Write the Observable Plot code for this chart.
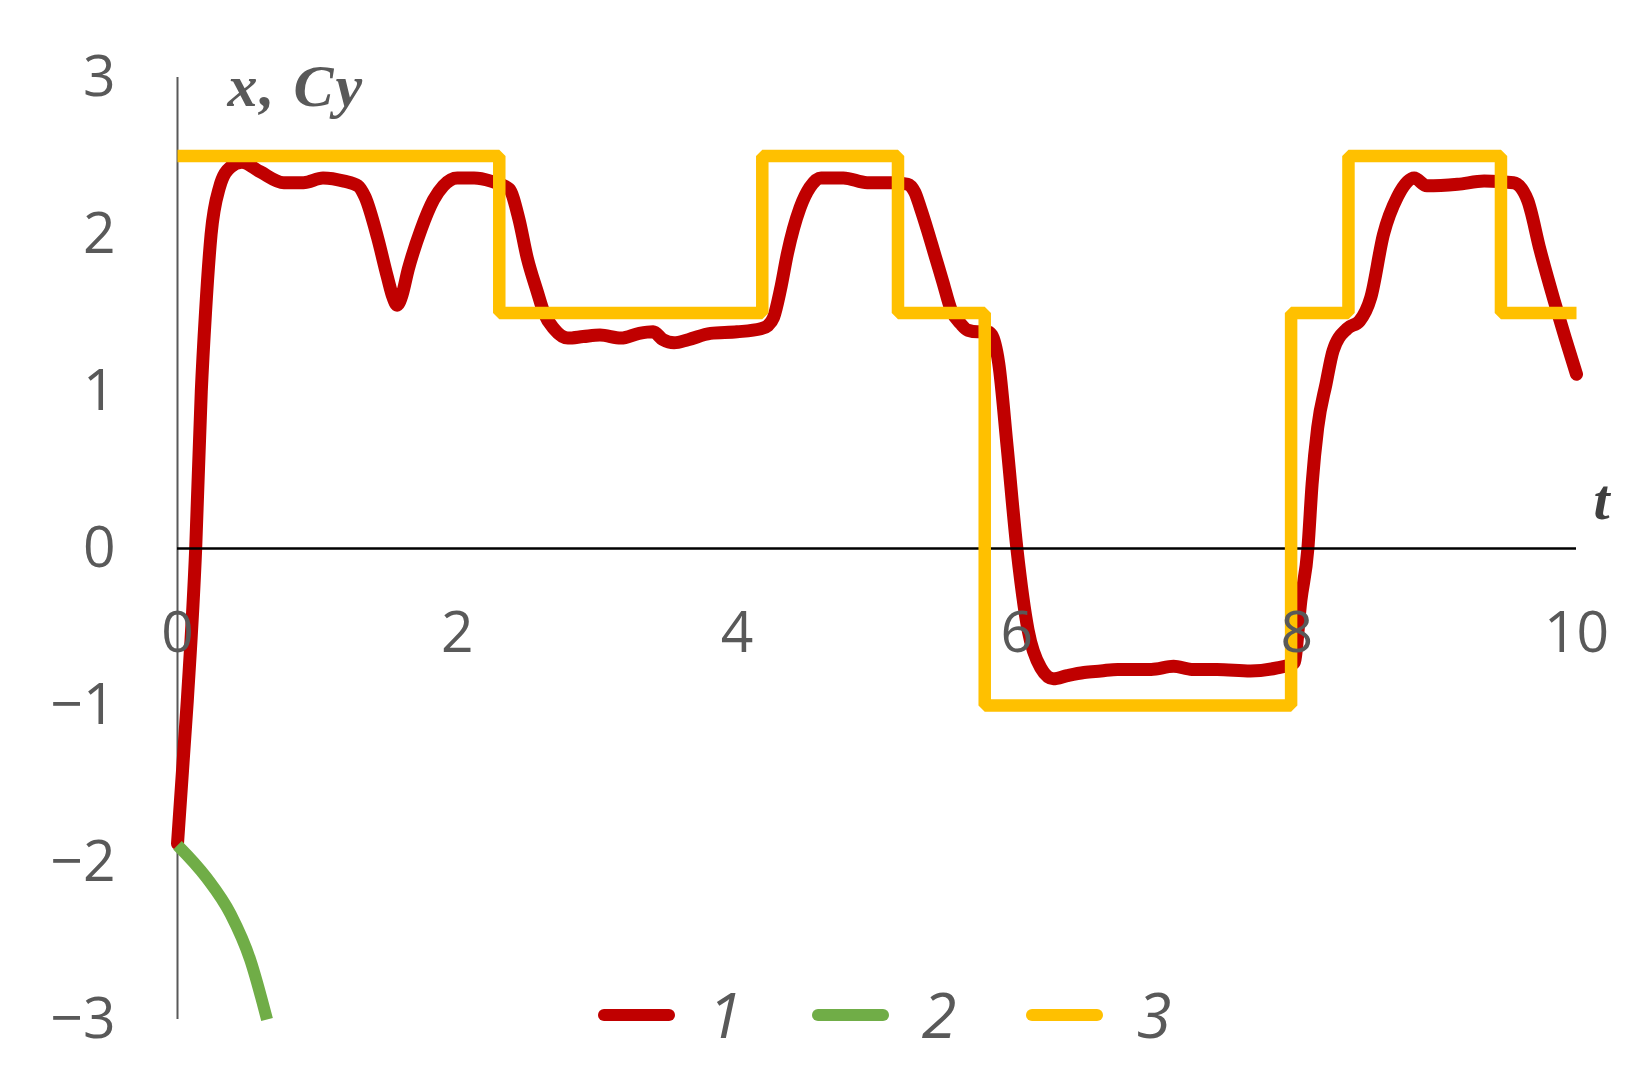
<!DOCTYPE html>
<html>
<head>
<meta charset="utf-8">
<script src="https://cdn.jsdelivr.net/npm/d3@7"></script>
<script src="https://cdn.jsdelivr.net/npm/@observablehq/plot@0.6"></script>
<style>
  html, body { margin: 0; padding: 0; background: #fff; }
  #wrap { position: relative; width: 1650px; height: 1078px; overflow: hidden; }
  .sw { position: absolute; height: 12px; border-radius: 6px; }
  .lb { position: absolute; width: 80px; text-align: center; font-family: "Open Sans", sans-serif;
        font-style: italic; font-size: 63px; line-height: 70px; color: #595959; }
</style>
</head>
<body>
<div id="wrap"></div>
<script>
// ---- data ----
const xTicks = [0, 2, 4, 6, 8, 10];
const yTicks = [3, 2, 1, 0, -1, -2, -3];

// series 1 (red)
const redT = [0, 0.07, 0.13, 0.17, 0.2, 0.24, 0.3, 0.38, 0.46, 0.59, 0.76, 0.9, 1.04, 1.19, 1.29, 1.34, 1.43, 1.5, 1.54, 1.57, 1.6, 1.65, 1.74, 1.83, 1.9, 2.0, 2.12, 2.24, 2.37, 2.44, 2.5, 2.57, 2.62, 2.69, 2.79, 2.9, 3.02, 3.17, 3.3, 3.4, 3.47, 3.55, 3.65, 3.81, 4.0, 4.17, 4.22, 4.26, 4.31, 4.36, 4.45, 4.52, 4.6, 4.76, 4.93, 5.12, 5.22, 5.27, 5.31, 5.36, 5.41, 5.47, 5.53, 5.6, 5.65, 5.72, 5.79, 5.82, 5.87, 5.93, 6.0, 6.08, 6.17, 6.26, 6.36, 6.48, 6.6, 6.72, 6.96, 7.12, 7.25, 7.43, 7.67, 7.86, 7.98, 8.03, 8.08, 8.11, 8.15, 8.21, 8.26, 8.36, 8.45, 8.53, 8.62, 8.72, 8.84, 8.93, 9.15, 9.34, 9.55, 9.65, 9.74, 9.84, 9.92, 10];
const redV = [-1.88, -0.97, 0, 1.0, 1.5, 2.0, 2.3, 2.43, 2.46, 2.4, 2.33, 2.33, 2.36, 2.34, 2.31, 2.24, 1.98, 1.73, 1.6, 1.55, 1.6, 1.78, 2.03, 2.22, 2.31, 2.36, 2.36, 2.34, 2.29, 2.1, 1.85, 1.64, 1.5, 1.4, 1.34, 1.35, 1.36, 1.34, 1.37, 1.38, 1.33, 1.31, 1.33, 1.37, 1.38, 1.40, 1.42, 1.47, 1.65, 1.88, 2.17, 2.3, 2.36, 2.36, 2.33, 2.33, 2.32, 2.27, 2.17, 2.03, 1.88, 1.7, 1.52, 1.43, 1.39, 1.38, 1.38, 1.36, 1.18, 0.65, 0, -0.52, -0.76, -0.83, -0.81, -0.79, -0.78, -0.77, -0.77, -0.75, -0.77, -0.77, -0.78, -0.76, -0.73, -0.33, 0, 0.41, 0.77, 1.05, 1.26, 1.40, 1.45, 1.6, 2.0, 2.24, 2.36, 2.31, 2.32, 2.34, 2.33, 2.22, 1.9, 1.58, 1.34, 1.11];

// series 2 (green)
const greenT = [0, 0.21, 0.38, 0.52, 0.64];
const greenV = [-1.89, -2.1, -2.33, -2.62, -3.0];

// series 3 (yellow, step)
const stepT = [0, 2.3, 4.18, 5.15, 5.77, 7.96, 8.37, 9.46, 10];
const stepV = [2.5, 1.5, 2.5, 1.5, -1, 1.5, 2.5, 1.5, 1.5];

const seriesNames = ["1", "2", "3"];
const seriesColors = ["#C00000", "#70AD47", "#FFC000"];

// ---- build ----
const red = redT.map((t, i) => ({t, v: redV[i]}));
const green = greenT.map((t, i) => ({t, v: greenV[i]}));
const step = stepT.map((t, i) => ({t, v: stepV[i]}));
const fmt = d => d < 0 ? "\u2212" + Math.abs(d) : String(d);
const grey = "#595959";

const chart = Plot.plot({
  width: 1650,
  height: 1078,
  marginLeft: 177,
  marginRight: 74,
  marginTop: 77,
  marginBottom: 59,
  x: {domain: [0, 10], axis: null},
  y: {domain: [-3, 3], axis: null},
  style: {background: "#fff", overflow: "visible"},
  marks: [
    Plot.ruleX([0], {stroke: grey, strokeWidth: 2}),
    Plot.line(red, {x: "t", y: "v", stroke: seriesColors[0], strokeWidth: 13, curve: "monotone-x"}),
    Plot.line(green, {x: "t", y: "v", stroke: seriesColors[1], strokeWidth: 12, curve: "monotone-x", strokeLinecap: "butt"}),
    Plot.ruleY([0], {stroke: "#000", strokeWidth: 2.5}),
    Plot.line(step, {x: "t", y: "v", stroke: seriesColors[2], strokeWidth: 12.5, curve: "step-after", strokeLinecap: "butt", strokeLinejoin: "miter"}),
    Plot.text(yTicks, {y: d => d, frameAnchor: "left", dx: -62, textAnchor: "end", text: fmt,
      fontSize: 57, fontFamily: "Open Sans", fill: grey}),
    Plot.text(xTicks, {x: d => d, y: d => 0, dy: 85, textAnchor: "middle", text: fmt,
      fontSize: 57, fontFamily: "Open Sans", fill: grey}),
    Plot.text(["x, Cy"], {frameAnchor: "top-left", dx: 50, dy: 28, lineAnchor: "bottom", textAnchor: "start",
      fontSize: 60, fontFamily: "Liberation Serif", fontWeight: "bold", fontStyle: "italic", fill: grey}),
    Plot.text(["t"], {frameAnchor: "top-right", dx: 17, dy: 441, lineAnchor: "bottom", textAnchor: "start",
      fontSize: 58, fontFamily: "Liberation Serif", fontWeight: "bold", fontStyle: "italic", fill: "#404040"})
  ]
});

// widen the axis title spacing slightly, like the original
d3.select(chart).selectAll("text").filter(function() { return this.textContent === "x, Cy"; })
  .style("letter-spacing", "2px");

const wrap = document.getElementById("wrap");
wrap.appendChild(chart);

// legend (HTML, over the plot bottom)
const swLeft = [598, 812, 1026];
const lbCenter = [725, 939, 1154];
seriesNames.forEach((name, i) => {
  const sw = document.createElement("div");
  sw.className = "sw";
  sw.style.left = swLeft[i] + "px";
  sw.style.top = "1009px";
  sw.style.width = "77px";
  sw.style.background = seriesColors[i];
  wrap.appendChild(sw);
  const lb = document.createElement("div");
  lb.className = "lb";
  lb.style.left = (lbCenter[i] - 40) + "px";
  lb.style.top = "979px";
  lb.textContent = name;
  wrap.appendChild(lb);
});
</script>
</body>
</html>
